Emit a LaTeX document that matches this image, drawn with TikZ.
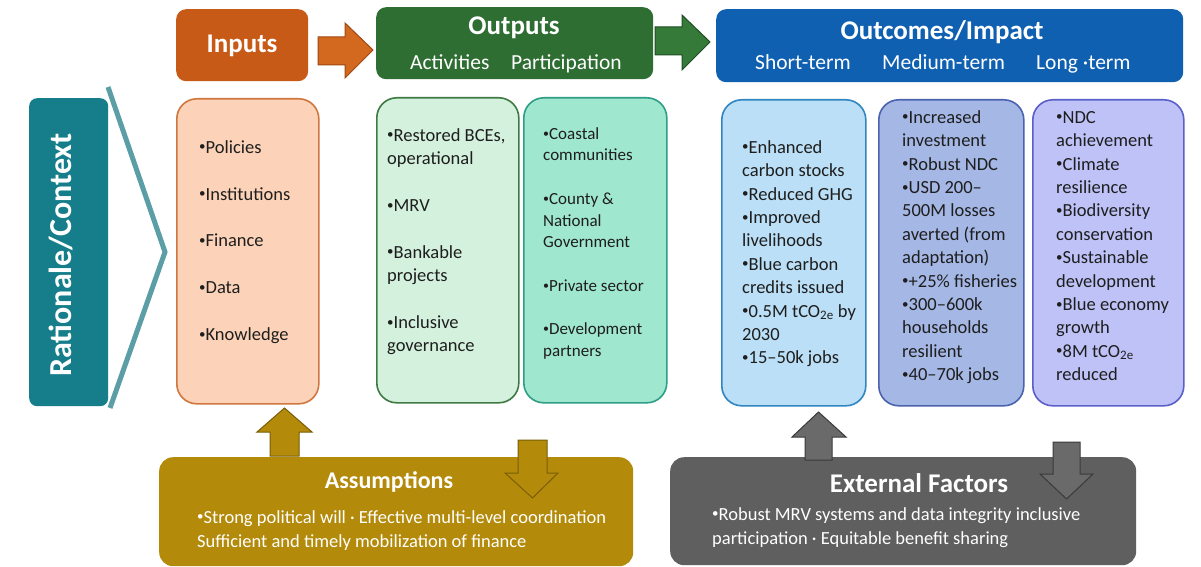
\documentclass[tikz,border=0pt]{standalone}
\usepackage{fontspec}
\usepackage{graphicx}
\setmainfont{Carlito}
\newcommand\myfs[2]{\fontsize{#1}{#2}\selectfont}
\newcommand\topstrut{\rule{0pt}{15pt}}
\newcommand\bul{\raisebox{0.12em}{\scalebox{0.7}{•}}}
\definecolor{inhdr}{HTML}{C85A17}
\definecolor{inarrow}{HTML}{D2691F}
\definecolor{outhdr}{HTML}{2F6E33}
\definecolor{outarrow}{HTML}{357A39}
\definecolor{ochdr}{HTML}{1060B2}
\definecolor{teal1}{HTML}{167E8A}
\definecolor{chev}{HTML}{5B9EA6}
\definecolor{infill}{HTML}{FCD3B8}
\definecolor{indraw}{HTML}{D0773F}
\definecolor{actfill}{HTML}{D4F1DD}
\definecolor{actdraw}{HTML}{3F7A45}
\definecolor{parfill}{HTML}{A0E7CF}
\definecolor{pardraw}{HTML}{2E9E86}
\definecolor{shfill}{HTML}{BADFF6}
\definecolor{shdraw}{HTML}{2F86C1}
\definecolor{mdfill}{HTML}{A5B7E5}
\definecolor{mddraw}{HTML}{4B63AE}
\definecolor{lgfill}{HTML}{BEC2F7}
\definecolor{lgdraw}{HTML}{5A60C8}
\definecolor{gold}{HTML}{B38A0A}
\definecolor{golddk}{HTML}{7A5E06}
\definecolor{extgray}{HTML}{5F5F5F}
\definecolor{grayarr}{HTML}{6A6A6A}
\definecolor{graydk}{HTML}{3A3A3A}
\definecolor{textc}{HTML}{1E1E1E}
\begin{document}
\begin{tikzpicture}[x=1pt,y=-1pt,
  hdrbox/.style={rounded corners=10pt, anchor=north west, inner sep=0, draw=none},
  cbox/.style={rounded corners=20pt, anchor=north west, inner sep=0, line width=1.6pt},
  bbox/.style={rounded corners=14pt, anchor=north west, inner sep=0, draw=none},
  txt/.style={anchor=north west, inner sep=0, align=left, text=textc, font=\myfs{18.5}{23.4}},
  wtxt/.style={inner sep=0, text=white},
  blockarr/.style={line width=1pt, line join=miter}]
\useasboundingbox (0,0) rectangle (1201,567);
\fill[white] (0,0) rectangle (1201,567);

% ---------- header row ----------
\node[hdrbox, fill=inhdr, minimum width=132pt, minimum height=72pt] (inh) at (176,9) {};
\node[hdrbox, fill=outhdr, minimum width=277pt, minimum height=72pt] (outh) at (376,7) {};
\node[hdrbox, fill=ochdr, minimum width=467pt, minimum height=73pt] (och) at (716,9) {};

\node[wtxt, anchor=base, font=\bfseries\myfs{27}{30}] (inht) at (242,53) {Inputs};
\node[wtxt, anchor=base, font=\bfseries\myfs{27}{30}] (outht) at (514,35) {Outputs};
\node[wtxt, anchor=base west, font=\myfs{21.5}{24}] (acth) at (410,70) {Activities};
\node[wtxt, anchor=base west, font=\myfs{21.5}{24}] (parh) at (511,70) {Participation};
\node[wtxt, anchor=base, font=\bfseries\myfs{27}{30}] (ocht) at (942,40) {Outcomes/Impact};
\node[wtxt, anchor=base west, font=\myfs{21.5}{24}] (shh) at (755,70) {Short-term};
\node[wtxt, anchor=base west, font=\myfs{21.5}{24}] (mdh) at (882,70) {Medium-term};
\node[wtxt, anchor=base west, font=\myfs{21.5}{24}] (lgh) at (1036,70) {Long ·term};

% header block arrows
\draw[blockarr, fill=inarrow, draw=inhdr!80!black]
  (318,37) -- (345,37) -- (345,23) -- (373,50) -- (345,78) -- (345,65) -- (318,65) -- cycle;
\draw[blockarr, fill=outarrow, draw=outhdr!70!black]
  (655,27) -- (682,27) -- (682,15) -- (710,42) -- (682,70) -- (682,55) -- (655,55) -- cycle;

% ---------- rationale ----------
\draw[chev, line width=5pt, fill=white, line join=miter]
  (108,87) -- (165,252) -- (110,408);
\node[rounded corners=8pt, fill=teal1, anchor=north west, inner sep=0,
      minimum width=79pt, minimum height=308pt] (rat) at (29,98) {};
\node[wtxt, rotate=90, font=\bfseries\myfs{32}{36}] (ratt) at (61,255) {Rationale/Context};

% ---------- content boxes ----------
\node[cbox, fill=infill, draw=indraw, minimum width=142pt, minimum height=305pt] (inb) at (176,98) {};
\node[cbox, fill=actfill, draw=actdraw, minimum width=142pt, minimum height=305pt] (actb) at (376,97) {};
\node[cbox, fill=parfill, draw=pardraw, minimum width=143pt, minimum height=305pt] (parb) at (523,97) {};
\node[cbox, fill=shfill, draw=shdraw, minimum width=144pt, minimum height=306pt] (shb) at (721,99) {};
\node[cbox, fill=mdfill, draw=mddraw, minimum width=145pt, minimum height=306pt] (mdb) at (878,99) {};
\node[cbox, fill=lgfill, draw=lgdraw, minimum width=151pt, minimum height=306pt] (lgb) at (1032,99) {};

\node[txt] (int) at (199,138) {\topstrut\bul Policies\\[23.4pt]\bul Institutions\\[23.4pt]\bul Finance\\[23.4pt]\bul Data\\[23.4pt]\bul Knowledge};
\node[txt] (actt) at (387,126) {\topstrut\bul Restored BCEs,\\operational\\[23.4pt]\bul MRV\\[23.4pt]\bul Bankable\\projects\\[23.4pt]\bul Inclusive\\governance};
\node[txt, font=\myfs{17}{21.7}] (part) at (543,125) {\rule{0pt}{14pt}\bul Coastal\\communities\\[21.7pt]\bul County \&\\National\\Government\\[21.7pt]\bul Private sector\\[21.7pt]\bul Development\\partners};
\node[txt] (sht) at (742,138) {\topstrut\bul Enhanced\\carbon stocks\\\bul Reduced GHG\\\bul Improved\\livelihoods\\\bul Blue carbon\\credits issued\\\bul 0.5M tCO\textsubscript{2e} by\\2030\\\bul 15–50k jobs};
\node[txt] (mdt) at (902,108) {\topstrut\bul Increased\\investment\\\bul Robust NDC\\\bul USD 200–\\500M losses\\averted (from\\adaptation)\\\bul +25\% fisheries\\\bul 300–600k\\households\\resilient\\\bul 40–70k jobs};
\node[txt] (lgt) at (1056,108) {\topstrut\bul NDC\\achievement\\\bul Climate\\resilience\\\bul Biodiversity\\conservation\\\bul Sustainable\\development\\\bul Blue economy\\growth\\\bul 8M tCO\textsubscript{2e}\\reduced};

% ---------- bottom boxes ----------
\node[bbox, fill=gold, minimum width=474pt, minimum height=109pt] (asb) at (159,457) {};
\node[bbox, fill=extgray, minimum width=466pt, minimum height=108pt] (exb) at (670,457) {};

\node[wtxt, anchor=base, font=\bfseries\myfs{24}{28}] (ast) at (389,488) {Assumptions};
\node[wtxt, anchor=base west, font=\myfs{18.5}{23}] (as1) at (197,523) {\bul Strong political will · Effective multi-level coordination};
\node[wtxt, anchor=base west, font=\myfs{18.5}{23}] (as2) at (197,547) {Sufficient and timely mobilization of finance};
\node[wtxt, anchor=base, font=\bfseries\myfs{27}{30}] (ext) at (919,492) {External Factors};
\node[wtxt, anchor=base west, font=\myfs{18.5}{23}] (ex1) at (712,520) {\bul Robust MRV systems and data integrity inclusive};
\node[wtxt, anchor=base west, font=\myfs{18.5}{23}] (ex2) at (712,544) {participation · Equitable benefit sharing};

% vertical block arrows
\draw[blockarr, fill=gold, draw=golddk]
  (270,456) -- (270,432) -- (257,432) -- (284.5,408) -- (312,432) -- (299,432) -- (299,456) -- cycle;
\draw[blockarr, fill=gold, draw=golddk]
  (518,440) -- (547,440) -- (547,473) -- (558,473) -- (532.5,498) -- (505,473) -- (518,473) -- cycle;
\draw[blockarr, fill=grayarr, draw=graydk]
  (805,460) -- (805,437) -- (792,437) -- (818.5,412) -- (846,437) -- (832,437) -- (832,460) -- cycle;
\draw[blockarr, fill=grayarr, draw=graydk]
  (1053,442) -- (1080,442) -- (1080,474) -- (1093,474) -- (1066.5,499) -- (1040,474) -- (1053,474) -- cycle;
\end{tikzpicture}
\end{document}
